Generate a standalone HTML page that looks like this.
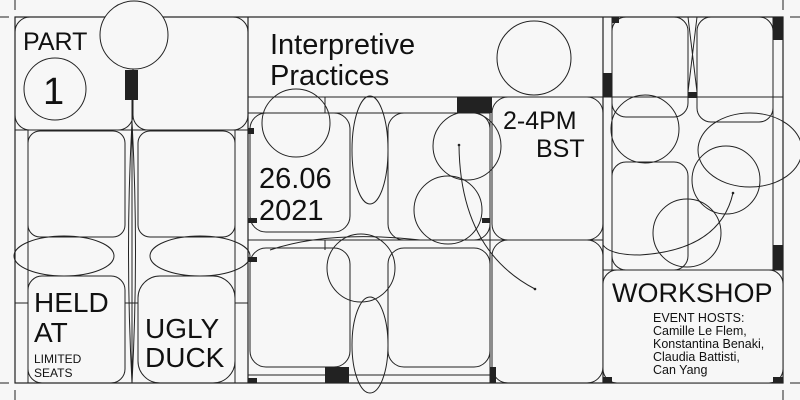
<!DOCTYPE html>
<html><head><style>html,body{margin:0;padding:0;background:#f7f7f7}svg{display:block}text{font-family:"Liberation Sans",sans-serif;fill:#111}</style></head>
<body>
<svg width="800" height="400" viewBox="0 0 800 400" xmlns="http://www.w3.org/2000/svg">
<rect width="800" height="400" fill="#f7f7f7"/>
<g fill="none" stroke="#222" stroke-width="1">
<line x1="15" y1="0" x2="15" y2="10"/><line x1="0" y1="17" x2="9" y2="17"/>
<line x1="783" y1="0" x2="783" y2="10"/><line x1="790" y1="17" x2="800" y2="17"/>
<line x1="15" y1="390" x2="15" y2="400"/><line x1="0" y1="383" x2="9" y2="383"/>
<line x1="783" y1="390" x2="783" y2="400"/><line x1="790" y1="383" x2="800" y2="383"/>
<rect x="15" y="17" width="768" height="366" stroke-width="1.2"/>
<line x1="248" y1="17" x2="248" y2="383" stroke-width="1.2"/>
<line x1="603" y1="17" x2="603" y2="383" stroke-width="1.2"/>
<line x1="612" y1="17" x2="612" y2="270"/>
<line x1="773" y1="17" x2="773" y2="270"/>
<rect x="15" y="17" width="118" height="113" rx="15"/>
<rect x="133" y="17" width="115" height="113" rx="15"/>
<line x1="15" y1="130" x2="248" y2="130"/>
<line x1="28" y1="130" x2="28" y2="383"/><line x1="235" y1="130" x2="235" y2="383"/>
<line x1="132" y1="100" x2="132" y2="383"/>
<path d="M132 122 Q125 250 132 383 M132 122 Q139 250 132 383"/>
<rect x="28" y="131" width="97" height="106" rx="12"/>
<rect x="138" y="131" width="97" height="106" rx="12"/>
<ellipse cx="64" cy="256" rx="50" ry="20"/>
<ellipse cx="200" cy="256" rx="50" ry="20"/>
<line x1="15" y1="303" x2="28" y2="303"/><line x1="125" y1="303" x2="138" y2="303"/><line x1="235" y1="303" x2="248" y2="303"/>
<rect x="28" y="276" width="97" height="107" rx="14"/>
<rect x="138" y="276" width="97" height="107" rx="22"/>
<circle cx="55" cy="89" r="31"/>
<circle cx="134" cy="35" r="34" fill="#f7f7f7"/>
<line x1="248" y1="97" x2="603" y2="97"/>
<line x1="248" y1="113" x2="490" y2="113"/>
<line x1="490" y1="97" x2="490" y2="383"/>
<line x1="325" y1="97" x2="325" y2="113"/>
<line x1="248" y1="240" x2="603" y2="240"/>
<line x1="325" y1="240" x2="325" y2="250"/>
<rect x="250" y="113" width="100" height="119" rx="16"/>
<rect x="388" y="113" width="102" height="127" rx="16"/>
<rect x="492" y="97" width="111" height="143" rx="16"/>
<rect x="250" y="248" width="100" height="119" rx="16"/>
<rect x="388" y="248" width="102" height="119" rx="16"/>
<rect x="492" y="240" width="111" height="143" rx="16"/>
<ellipse cx="370" cy="150" rx="18" ry="54"/>
<ellipse cx="370" cy="345" rx="18" ry="48"/>
<line x1="248" y1="375" x2="490" y2="375"/>
<circle cx="534" cy="58" r="37"/>
<circle cx="296" cy="123" r="34"/>
<circle cx="467" cy="146" r="34"/>
<circle cx="448" cy="210" r="34"/>
<circle cx="361" cy="268" r="34"/>
<path d="M459 145 Q460 250 535 289"/>
<path d="M270 250 Q330 230 420 240"/>
<rect x="612" y="17" width="76" height="100" rx="14"/>
<rect x="697" y="17" width="76" height="105" rx="14"/>
<line x1="688" y1="17" x2="697" y2="92"/><line x1="697" y1="17" x2="688" y2="92"/>
<line x1="603" y1="97" x2="783" y2="97"/>
<rect x="612" y="162" width="76" height="108" rx="14"/>
<ellipse cx="750" cy="150" rx="52" ry="37"/>
<circle cx="645" cy="129" r="34"/>
<circle cx="726" cy="180" r="34"/>
<circle cx="687" cy="233" r="34"/>
<path d="M733 193 Q720 250 640 255 Q610 255 603 245"/>
<line x1="603" y1="270" x2="783" y2="270"/>
<rect x="603" y="270" width="180" height="113" rx="14" fill="#f7f7f7"/>
</g>
<g fill="#222">
<rect x="125" y="70" width="13" height="30"/>
<rect x="457" y="97" width="35" height="16"/>
<rect x="248" y="128" width="6" height="6"/>
<rect x="248" y="218" width="9" height="5"/>
<rect x="248" y="257" width="9" height="5"/>
<rect x="248" y="378" width="9" height="5"/>
<rect x="325" y="367" width="24" height="16"/>
<rect x="482" y="218" width="8" height="5"/>
<rect x="490" y="367" width="6" height="16"/>
<rect x="603" y="73" width="9" height="24"/>
<rect x="612" y="17" width="7" height="6"/>
<rect x="688" y="92" width="9" height="6"/>
<rect x="773" y="17" width="10" height="23"/>
<rect x="773" y="245" width="10" height="25"/>
<rect x="603" y="377" width="9" height="6"/>
<rect x="773" y="377" width="10" height="6"/>
<circle cx="459" cy="145" r="1.3"/><circle cx="535" cy="289" r="1.3"/><circle cx="733" cy="193" r="1.3"/>
</g>
<text x="23" y="50" font-size="25">PART</text>
<text x="43" y="104" font-size="38">1</text>
<text x="270" y="54" font-size="29">Interpretive</text>
<text x="270" y="85" font-size="29">Practices</text>
<text x="503" y="129" font-size="25">2-4PM</text>
<text x="536" y="157" font-size="25">BST</text>
<text x="259" y="188" font-size="29">26.06</text>
<text x="259" y="220" font-size="29">2021</text>
<text x="34" y="312" font-size="28">HELD</text>
<text x="34" y="342" font-size="28">AT</text>
<text x="34" y="363" font-size="12">LIMITED</text>
<text x="34" y="377" font-size="12">SEATS</text>
<text x="145" y="338" font-size="28">UGLY</text>
<text x="145" y="367" font-size="28">DUCK</text>
<text x="612" y="302" font-size="27">WORKSHOP</text>
<g font-size="12.5"><text x="653" y="322">EVENT HOSTS:</text><text x="653" y="335">Camille Le Flem,</text><text x="653" y="348">Konstantina Benaki,</text><text x="653" y="361">Claudia Battisti,</text><text x="653" y="374">Can Yang</text></g>
</svg>
</body></html>
